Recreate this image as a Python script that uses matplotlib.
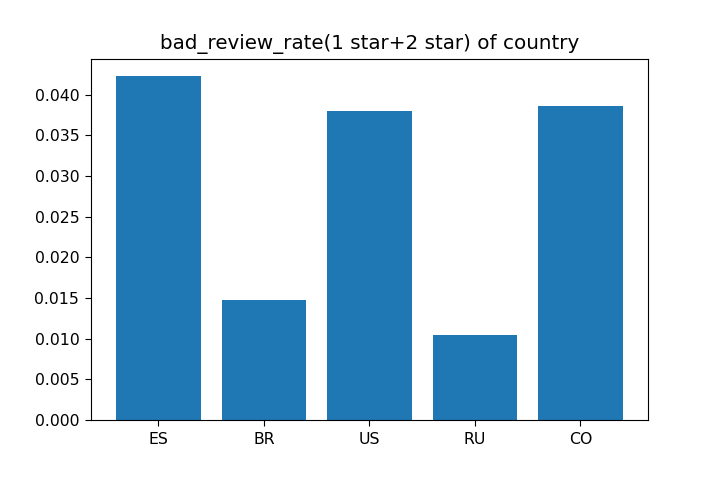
import matplotlib

matplotlib.use('Agg')  # no display
import matplotlib.pyplot as plt

# bad review rate per country
countries = ['ES', 'BR', 'US', 'RU', 'CO']
bad_review_rate = [0.04225, 0.0147, 0.0380, 0.0104, 0.0386]

fig = plt.figure(figsize=(7.18, 4.79), dpi=100)
ax = fig.add_axes([0.1267, 0.1232, 0.7758, 0.7536])
ax.bar(countries, bad_review_rate, color='#1f77b4')
ax.set_title('bad_review_rate(1 star+2 star) of country', fontsize=14.3, pad=7)
ax.tick_params(labelsize=11.3, length=4.2, pad=4.2)

plt.savefig('out.png', dpi=100)
plt.close(fig)
